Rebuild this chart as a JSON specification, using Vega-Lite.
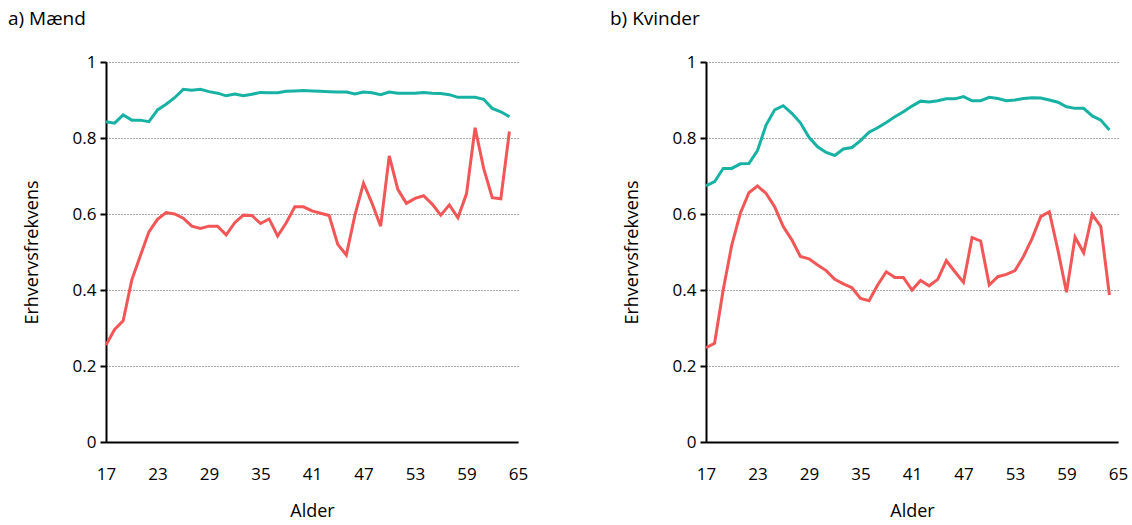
{
  "$schema": "https://vega.github.io/schema/vega-lite/v6.json",
  "padding": {"left": 8, "top": 10, "right": 2, "bottom": 0},
  "config": {
    "font": "Open Sans",
    "view": {"stroke": null},
    "title": {"fontSize": 19, "fontWeight": "normal", "anchor": "start", "frame": "group", "offset": 24},
    "axis": {"labelFontSize": 17, "titleFontSize": 18, "titleFontWeight": "normal", "domainColor": "black", "domainWidth": 2, "tickColor": "black", "tickWidth": 2, "labelColor": "black", "titleColor": "black"}
  },
  "datasets": {
    "maend": [
      {"alder":17,"a":0.843,"b":0.255},{"alder":18,"a":0.839,"b":0.296},{"alder":19,"a":0.861,"b":0.319},{"alder":20,"a":0.847,"b":0.426},
      {"alder":21,"a":0.847,"b":0.49},{"alder":22,"a":0.843,"b":0.553},{"alder":23,"a":0.874,"b":0.586},{"alder":24,"a":0.889,"b":0.604},
      {"alder":25,"a":0.906,"b":0.6},{"alder":26,"a":0.928,"b":0.589},{"alder":27,"a":0.926,"b":0.568},{"alder":28,"a":0.928,"b":0.562},
      {"alder":29,"a":0.922,"b":0.568},{"alder":30,"a":0.918,"b":0.568},{"alder":31,"a":0.911,"b":0.545},{"alder":32,"a":0.916,"b":0.577},
      {"alder":33,"a":0.911,"b":0.597},{"alder":34,"a":0.915,"b":0.596},{"alder":35,"a":0.92,"b":0.575},{"alder":36,"a":0.919,"b":0.587},
      {"alder":37,"a":0.919,"b":0.542},{"alder":38,"a":0.923,"b":0.577},{"alder":39,"a":0.924,"b":0.619},{"alder":40,"a":0.925,"b":0.619},
      {"alder":41,"a":0.924,"b":0.608},{"alder":42,"a":0.923,"b":0.602},{"alder":43,"a":0.922,"b":0.596},{"alder":44,"a":0.921,"b":0.52},
      {"alder":45,"a":0.921,"b":0.492},{"alder":46,"a":0.916,"b":0.597},{"alder":47,"a":0.921,"b":0.681},{"alder":48,"a":0.919,"b":0.628},
      {"alder":49,"a":0.914,"b":0.568},{"alder":50,"a":0.921,"b":0.753},{"alder":51,"a":0.918,"b":0.665},{"alder":52,"a":0.918,"b":0.628},
      {"alder":53,"a":0.918,"b":0.641},{"alder":54,"a":0.92,"b":0.648},{"alder":55,"a":0.918,"b":0.626},{"alder":56,"a":0.917,"b":0.597},
      {"alder":57,"a":0.914,"b":0.624},{"alder":58,"a":0.907,"b":0.59},{"alder":59,"a":0.907,"b":0.653},{"alder":60,"a":0.907,"b":0.827},
      {"alder":61,"a":0.902,"b":0.72},{"alder":62,"a":0.878,"b":0.643},{"alder":63,"a":0.869,"b":0.64},{"alder":64,"a":0.856,"b":0.817}
    ],
    "kvinder": [
      {"alder":17,"a":0.674,"b":0.248},{"alder":18,"a":0.685,"b":0.26},{"alder":19,"a":0.72,"b":0.4},{"alder":20,"a":0.72,"b":0.518},
      {"alder":21,"a":0.732,"b":0.602},{"alder":22,"a":0.733,"b":0.656},{"alder":23,"a":0.767,"b":0.674},{"alder":24,"a":0.834,"b":0.654},
      {"alder":25,"a":0.874,"b":0.619},{"alder":26,"a":0.885,"b":0.567},{"alder":27,"a":0.865,"b":0.532},{"alder":28,"a":0.84,"b":0.488},
      {"alder":29,"a":0.802,"b":0.482},{"alder":30,"a":0.777,"b":0.466},{"alder":31,"a":0.762,"b":0.451},{"alder":32,"a":0.754,"b":0.428},
      {"alder":33,"a":0.771,"b":0.416},{"alder":34,"a":0.775,"b":0.406},{"alder":35,"a":0.793,"b":0.378},{"alder":36,"a":0.815,"b":0.372},
      {"alder":37,"a":0.827,"b":0.413},{"alder":38,"a":0.841,"b":0.448},{"alder":39,"a":0.856,"b":0.433},{"alder":40,"a":0.869,"b":0.433},
      {"alder":41,"a":0.884,"b":0.4},{"alder":42,"a":0.897,"b":0.425},{"alder":43,"a":0.895,"b":0.411},{"alder":44,"a":0.898,"b":0.428},
      {"alder":45,"a":0.903,"b":0.477},{"alder":46,"a":0.903,"b":0.448},{"alder":47,"a":0.909,"b":0.42},{"alder":48,"a":0.898,"b":0.538},
      {"alder":49,"a":0.898,"b":0.529},{"alder":50,"a":0.907,"b":0.413},{"alder":51,"a":0.904,"b":0.435},{"alder":52,"a":0.898,"b":0.441},
      {"alder":53,"a":0.9,"b":0.451},{"alder":54,"a":0.904,"b":0.489},{"alder":55,"a":0.906,"b":0.536},{"alder":56,"a":0.905,"b":0.593},
      {"alder":57,"a":0.9,"b":0.606},{"alder":58,"a":0.894,"b":0.505},{"alder":59,"a":0.882,"b":0.394},{"alder":60,"a":0.878,"b":0.539},
      {"alder":61,"a":0.878,"b":0.498},{"alder":62,"a":0.858,"b":0.599},{"alder":63,"a":0.847,"b":0.567},{"alder":64,"a":0.821,"b":0.387}
    ]
  },
  "spacing": 82,
  "hconcat": [
    {
      "title": {"text": "a) Mænd", "dx": -98},
      "width": 412, "height": 380,
      "data": {"name": "maend"},
      "encoding": {
        "x": {"field": "alder", "type": "quantitative", "title": "Alder", "scale": {"domain": [17, 65], "nice": false},
          "axis": {"values": [17,23,29,35,41,47,53,59,65], "grid": false, "ticks": false, "labelFlush": false, "labelPadding": 24, "titlePadding": 20}}
      },
      "layer": [
        {"mark": {"type": "line", "color": "#18B2A4", "strokeWidth": 3},
         "encoding": {"y": {"field": "a", "type": "quantitative", "title": "Erhvervsfrekvens", "scale": {"domain": [0, 1]},
           "axis": {"values": [0,0.2,0.4,0.6,0.8,1], "labelExpr": "datum.value == 0 ? '0' : format(datum.value, '.1~f')", "gridColor": "#555", "gridDash": [1,2], "gridWidth": 1, "tickSize": 6, "labelPadding": 4, "titlePadding": 31}}}},
        {"mark": {"type": "line", "color": "#F25656", "strokeWidth": 3},
         "encoding": {"y": {"field": "b", "type": "quantitative"}}}
      ]
    },
    {
      "title": {"text": "b) Kvinder", "dx": -96},
      "width": 412, "height": 380,
      "data": {"name": "kvinder"},
      "encoding": {
        "x": {"field": "alder", "type": "quantitative", "title": "Alder", "scale": {"domain": [17, 65], "nice": false},
          "axis": {"values": [17,23,29,35,41,47,53,59,65], "grid": false, "ticks": false, "labelFlush": false, "labelPadding": 24, "titlePadding": 20}}
      },
      "layer": [
        {"mark": {"type": "line", "color": "#18B2A4", "strokeWidth": 3},
         "encoding": {"y": {"field": "a", "type": "quantitative", "title": "Erhvervsfrekvens", "scale": {"domain": [0, 1]},
           "axis": {"values": [0,0.2,0.4,0.6,0.8,1], "labelExpr": "datum.value == 0 ? '0' : format(datum.value, '.1~f')", "gridColor": "#555", "gridDash": [1,2], "gridWidth": 1, "tickSize": 6, "labelPadding": 4, "titlePadding": 31}}}},
        {"mark": {"type": "line", "color": "#F25656", "strokeWidth": 3},
         "encoding": {"y": {"field": "b", "type": "quantitative"}}}
      ]
    }
  ]
}
